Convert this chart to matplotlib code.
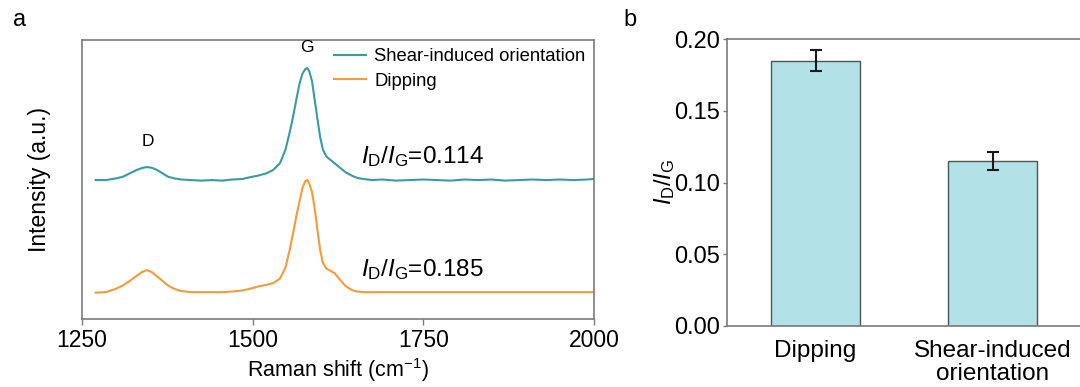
import matplotlib
matplotlib.use("Agg")
import matplotlib.pyplot as plt
import numpy as np

plt.rcParams['font.family'] = ['Liberation Sans', 'DejaVu Sans']
plt.rcParams['mathtext.fontset'] = 'custom'
plt.rcParams['mathtext.rm'] = 'Liberation Sans'
plt.rcParams['mathtext.it'] = 'Liberation Sans:italic'
plt.rcParams['mathtext.bf'] = 'Liberation Sans:bold'
plt.rcParams['axes.unicode_minus'] = False

# ---- Panel a data (Raman spectra, normalised to G peak) ----
wavenumber = [1270, 1285, 1300, 1310, 1320, 1330, 1338, 1345, 1352, 1360, 1368, 1376,
              1385, 1395, 1410, 1425, 1440, 1455, 1470, 1485, 1496, 1508, 1520, 1530,
              1540, 1548, 1554, 1559, 1564, 1569, 1573, 1577, 1580, 1583, 1587, 1591,
              1595, 1599, 1603, 1608, 1614, 1620, 1628, 1636, 1645, 1653, 1662, 1675,
              1690, 1710, 1730, 1750, 1770, 1790, 1810, 1830, 1850, 1870, 1890, 1910,
              1930, 1950, 1970, 1990, 2000]
intensity_shear = [0.00, 0.00, 0.015, 0.03, 0.06, 0.09, 0.108, 0.116, 0.11, 0.09, 0.06, 0.03,
                   0.015, 0.005, 0.0, -0.005, 0.0, -0.005, 0.005, 0.01, 0.025, 0.04, 0.06, 0.09,
                   0.15, 0.27, 0.42, 0.56, 0.72, 0.87, 0.95, 0.99, 1.00, 0.97, 0.88, 0.71,
                   0.54, 0.38, 0.27, 0.21, 0.18, 0.15, 0.11, 0.07, 0.04, 0.02, 0.01, 0.0,
                   0.005, -0.005, 0.0, 0.005, 0.0, -0.005, 0.005, 0.0, 0.005, -0.005, 0.0, 0.005,
                   0.0, 0.005, 0.0, 0.005, 0.01]
intensity_dipping = [-0.005, 0.0, 0.03, 0.06, 0.10, 0.145, 0.18, 0.196, 0.18, 0.14, 0.10, 0.06,
                     0.03, 0.01, 0.0, 0.0, 0.0, 0.0, 0.005, 0.015, 0.03, 0.05, 0.065, 0.08,
                     0.12, 0.22, 0.37, 0.52, 0.68, 0.82, 0.93, 0.99, 1.00, 0.97, 0.89, 0.74,
                     0.55, 0.37, 0.26, 0.21, 0.19, 0.17, 0.11, 0.055, 0.02, 0.005, 0.0, 0.0,
                     0.0, 0.0, 0.0, 0.0, 0.0, 0.0, 0.0, 0.0, 0.0, 0.0, 0.0, 0.0,
                     0.0, 0.0, 0.0, 0.0, 0.0]
shear_offset = 1.0
ratio_labels = ["0.114", "0.185"]

# ---- Panel b data ----
methods = ["Dipping", "Shear-induced\norientation"]
id_ig = [0.185, 0.115]
id_ig_err = [0.007, 0.006]

teal = '#3b9ba3'
orange = '#f39b3d'
spine_c = '#7a7a7a'

fig = plt.figure(figsize=(10.8, 3.87), dpi=100)

# Panel a
ax1 = fig.add_axes([82/1080, 1-319/387, 512/1080, 279/387])
ax1.plot(wavenumber, np.array(intensity_shear) + shear_offset, color=teal, lw=1.5,
         label='Shear-induced orientation')
ax1.plot(wavenumber, intensity_dipping, color=orange, lw=1.5, label='Dipping')
ax1.set_xlim(1250, 2000)
ax1.set_ylim(-0.24, 2.25)
ax1.set_xticks([1250, 1500, 1750, 2000])
ax1.set_yticks([])
ax1.tick_params(axis='x', direction='out', length=4, width=1, color=spine_c,
                labelsize=16.5, pad=3)
for s in ax1.spines.values():
    s.set_color(spine_c)
    s.set_linewidth(1.2)
ax1.set_xlabel('Raman shift (cm$^{-1}$)', fontsize=15.5, labelpad=3)
ax1.set_ylabel('Intensity (a.u.)', fontsize=16.5, labelpad=22)
ax1.text(1347, 1.34, 'D', fontsize=12.5, ha='center', va='center')
ax1.text(1580, 2.18, 'G', fontsize=12.5, ha='center', va='center')
ax1.text(1658, 1.206, r'$\mathit{I}_{\mathrm{D}}$/$\mathit{I}_{\mathrm{G}}$=' + ratio_labels[0],
         fontsize=17.5, ha='left', va='center')
ax1.text(1658, 0.197, r'$\mathit{I}_{\mathrm{D}}$/$\mathit{I}_{\mathrm{G}}$=' + ratio_labels[1],
         fontsize=17.5, ha='left', va='center')
ax1.legend(loc='upper right', bbox_to_anchor=(1.0, 1.0), frameon=False, fontsize=13.3,
           handlelength=1.75, handletextpad=0.45, labelspacing=0.4, borderaxespad=0.25,
           borderpad=0.2)

# Panel b
ax2 = fig.add_axes([727/1080, 1-326/387, 354/1080, 287/387])
x = np.arange(len(methods))
ax2.bar(x, id_ig, width=0.5, color='#b2e2e8', edgecolor='#4a5656', linewidth=1.0,
        yerr=id_ig_err, error_kw=dict(ecolor='#1a1a1a', elinewidth=1.5, capsize=4, capthick=1.5))
ax2.set_xlim(-0.5, 1.5)
ax2.set_ylim(0, 0.20)
ax2.set_yticks([0.00, 0.05, 0.10, 0.15, 0.20])
ax2.set_yticklabels(['0.00', '0.05', '0.10', '0.15', '0.20'])
ax2.set_xticks(x)
ax2.set_xticklabels(methods, fontsize=17.5, linespacing=1.05)
ax2.tick_params(axis='x', length=0, pad=10)
ax2.tick_params(axis='y', direction='out', length=3, width=1, color=spine_c, labelsize=17, pad=2)
for s in ax2.spines.values():
    s.set_color(spine_c)
    s.set_linewidth(1.2)
ax2.spines['right'].set_visible(False)
ax2.set_ylabel(r'$\mathit{I}_{\mathrm{D}}$/$\mathit{I}_{\mathrm{G}}$', fontsize=17, labelpad=-2)

fig.text(13/1080, 1-20/387, 'a', fontsize=17, ha='left', va='center')
fig.text(623/1080, 1-20/387, 'b', fontsize=17, ha='left', va='center')

fig.savefig('out.png', dpi=100)
